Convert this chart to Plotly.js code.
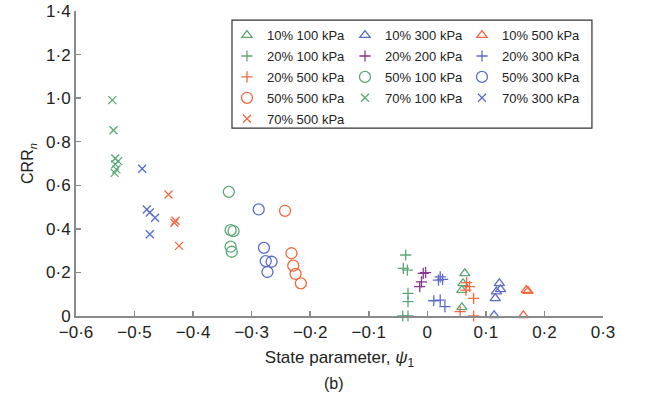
<!DOCTYPE html>
<html><head><meta charset="utf-8">
<script src="https://cdn.plot.ly/plotly-3.0.1.min.js"></script>
<style>html,body{margin:0;padding:0;background:#fff}#chart{width:646px;height:401px}</style>
</head><body><div id="chart"></div>
<script>
// ---- data (state parameter psi1, CRRn) ----
const x10_100 = [0.064, 0.061, 0.059, 0.059];
const y10_100 = [0.196, 0.150, 0.119, 0.040];
const x10_300 = [0.123, 0.125, 0.118, 0.116, 0.114];
const y10_300 = [0.150, 0.122, 0.112, 0.081, 0.003];
const x10_500 = [0.169, 0.172, 0.164];
const y10_500 = [0.119, 0.114, 0.003];
const x20_100 = [-0.037, -0.041, -0.034, -0.033, -0.033, -0.042, -0.033];
const y20_100 = [0.280, 0.219, 0.211, 0.104, 0.066, 0.0, 0.0];
const x20_200 = [-0.007, -0.003, -0.010, -0.013];
const y20_200 = [0.196, 0.199, 0.157, 0.135];
const x20_300 = [0.022, 0.026, 0.019, 0.011, 0.022, 0.030];
const y20_300 = [0.180, 0.168, 0.165, 0.070, 0.073, 0.043];
const x20_500 = [0.067, 0.072, 0.066, 0.079, 0.056, 0.079];
const y20_500 = [0.153, 0.135, 0.119, 0.081, 0.020, 0.0];
const x50_100 = [-0.339, -0.336, -0.331, -0.336, -0.334];
const y50_100 = [0.570, 0.394, 0.390, 0.318, 0.295];
const x50_300 = [-0.288, -0.279, -0.276, -0.266, -0.273];
const y50_300 = [0.489, 0.313, 0.252, 0.249, 0.202];
const x50_500 = [-0.243, -0.232, -0.229, -0.225, -0.216];
const y50_500 = [0.483, 0.288, 0.231, 0.193, 0.150];
const x70_100 = [-0.538, -0.536, -0.533, -0.528, -0.533, -0.531, -0.534];
const y70_100 = [0.991, 0.853, 0.723, 0.711, 0.696, 0.673, 0.657];
const x70_300 = [-0.487, -0.479, -0.474, -0.465, -0.474];
const y70_300 = [0.676, 0.489, 0.475, 0.451, 0.375];
const x70_500 = [-0.442, -0.430, -0.432, -0.424];
const y70_500 = [0.558, 0.437, 0.428, 0.322];

const xTickVals = [-0.6, -0.5, -0.4, -0.3, -0.2, -0.1, 0, 0.1, 0.2, 0.3];
const xTickText = ['\u22120·6', '\u22120·5', '\u22120·4', '\u22120·3', '\u22120·2', '\u22120·1', '0', '0·1', '0·2', '0·3'];
const yTickVals = [0, 0.2, 0.4, 0.6, 0.8, 1.0, 1.2, 1.4];
const yTickText = ['0', '0·2', '0·4', '0·6', '0·8', '1·0', '1·2', '1·4'];

const GREEN = '#5aa877', BLUE = '#5b6bca', RED = '#f2683f', PURPLE = '#85398b';

function tr(name, x, y, sym, color, size, legend) {
  return {
    type: 'scatter', mode: 'markers', name: name, x: x, y: y,
    legend: legend, legendgroup: name, cliponaxis: false,
    marker: { symbol: sym, size: size, color: color, line: { color: color, width: 1.3 } }
  };
}
const TRI = 'triangle-up-open', CR = 'cross-thin-open', CI = 'circle-open', XX = 'x-thin-open';
const data = [
  tr('10% 100 kPa', x10_100, y10_100, TRI, GREEN, 9, 'legend'),
  tr('10% 300 kPa', x10_300, y10_300, TRI, BLUE, 9, 'legend2'),
  tr('10% 500 kPa', x10_500, y10_500, TRI, RED, 9, 'legend3'),
  tr('20% 100 kPa', x20_100, y20_100, CR, GREEN, 8, 'legend'),
  tr('20% 200 kPa', x20_200, y20_200, CR, PURPLE, 8, 'legend2'),
  tr('20% 300 kPa', x20_300, y20_300, CR, BLUE, 8, 'legend3'),
  tr('20% 500 kPa', x20_500, y20_500, CR, RED, 8, 'legend'),
  tr('50% 100 kPa', x50_100, y50_100, CI, GREEN, 11, 'legend2'),
  tr('50% 300 kPa', x50_300, y50_300, CI, BLUE, 11, 'legend3'),
  tr('50% 500 kPa', x50_500, y50_500, CI, RED, 11, 'legend'),
  tr('70% 100 kPa', x70_100, y70_100, XX, GREEN, 8, 'legend2'),
  tr('70% 300 kPa', x70_300, y70_300, XX, BLUE, 8, 'legend3'),
  tr('70% 500 kPa', x70_500, y70_500, XX, RED, 8, 'legend')
];

const FONT = 'Liberation Sans, Arial, sans-serif';
function leg(x) {
  return { x: x, y: 0.970, xanchor: 'left', yanchor: 'top', bgcolor: 'rgba(0,0,0,0)',
    borderwidth: 0, tracegroupgap: 1, font: { family: FONT, size: 13, color: '#222' } };
}
const layout = {
  width: 646, height: 401,
  margin: { l: 76, r: 43, t: 11, b: 85 },
  paper_bgcolor: '#fff', plot_bgcolor: '#fff',
  font: { family: FONT, size: 14, color: '#222' },
  showlegend: true,
  legend: leg(0.2865), legend2: leg(0.5104), legend3: leg(0.7324),
  xaxis: {
    range: [-0.6, 0.3], tickvals: xTickVals, ticktext: xTickText,
    ticks: 'inside', ticklen: 5, tickcolor: '#8a8a8a', tickwidth: 1.5,
    showline: true, linecolor: '#8a8a8a', linewidth: 2,
    showgrid: false, zeroline: false,
    tickfont: { family: FONT, size: 17, color: '#222' },
    title: { text: 'State parameter, <i>ψ</i><sub>1</sub>', font: { family: FONT, size: 17, color: '#222' }, standoff: 10 }
  },
  yaxis: {
    range: [0, 1.4], tickvals: yTickVals, ticktext: yTickText,
    ticks: 'inside', ticklen: 5, tickcolor: '#8a8a8a', tickwidth: 1.5,
    showline: true, linecolor: '#8a8a8a', linewidth: 2,
    showgrid: false, zeroline: false,
    tickfont: { family: FONT, size: 17, color: '#222' },
    title: { text: 'CRR<sub><i>n</i></sub>', font: { family: FONT, size: 16, color: '#222' }, standoff: 8 }
  },
  shapes: [{ type: 'rect', xref: 'paper', yref: 'paper', x0: 0.296, x1: 0.979, y0: 0.616, y1: 0.970,
    line: { color: '#333', width: 1.2 }, fillcolor: 'rgba(0,0,0,0)', layer: 'below' }],
  annotations: [{ text: '(b)', xref: 'paper', yref: 'paper', x: 0.49, y: -0.22, yanchor: 'middle',
    showarrow: false, font: { family: FONT, size: 16, color: '#222' } }]
};
Plotly.newPlot('chart', data, layout, { staticPlot: true, displayModeBar: false });
</script></body></html>
